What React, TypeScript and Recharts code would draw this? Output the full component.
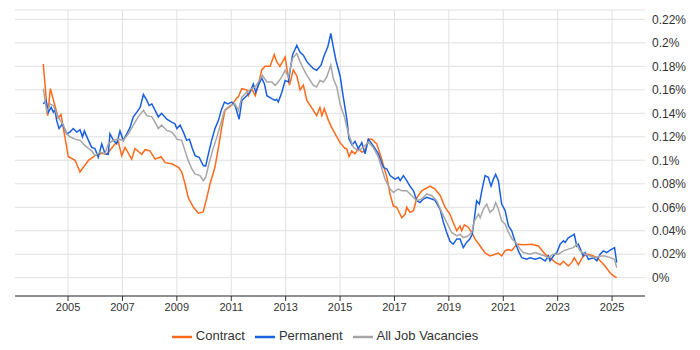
import React from 'react';
import { LineChart, Line, XAxis, YAxis, CartesianGrid, Legend } from 'recharts';

// year (decimal) and share of job ads (%)
const contractYears = [2004.09, 2004.25, 2004.35, 2004.5, 2004.64, 2004.74, 2005.01, 2005.26, 2005.44, 2005.75, 2005.99, 2006.24, 2006.42, 2006.73, 2006.85, 2006.97, 2007.1, 2007.34, 2007.46, 2007.71, 2007.83, 2008.01, 2008.2, 2008.42, 2008.57, 2008.81, 2009.06, 2009.18, 2009.3, 2009.42, 2009.61, 2009.79, 2009.97, 2010.1, 2010.22, 2010.4, 2010.53, 2010.65, 2010.77, 2011.02, 2011.2, 2011.26, 2011.39, 2011.57, 2011.63, 2011.75, 2011.88, 2012.0, 2012.12, 2012.24, 2012.43, 2012.58, 2012.67, 2012.79, 2012.98, 2013.14, 2013.28, 2013.41, 2013.53, 2013.65, 2013.78, 2014.02, 2014.14, 2014.26, 2014.33, 2014.42, 2014.57, 2014.69, 2014.88, 2015.0, 2015.18, 2015.24, 2015.33, 2015.43, 2015.55, 2015.67, 2015.8, 2015.92, 2016.04, 2016.17, 2016.35, 2016.53, 2016.72, 2016.84, 2016.96, 2017.08, 2017.27, 2017.39, 2017.45, 2017.57, 2017.7, 2017.82, 2018.0, 2018.31, 2018.49, 2018.68, 2018.86, 2019.04, 2019.16, 2019.29, 2019.41, 2019.47, 2019.57, 2019.71, 2019.84, 2019.96, 2020.15, 2020.33, 2020.51, 2020.7, 2020.82, 2020.94, 2021.07, 2021.19, 2021.31, 2021.5, 2021.75, 2022.05, 2022.29, 2022.54, 2022.72, 2022.91, 2023.09, 2023.21, 2023.39, 2023.52, 2023.61, 2023.76, 2023.94, 2024.13, 2024.31, 2024.44, 2024.62, 2024.74, 2024.93, 2025.05, 2025.17];
const contractValues = [0.182, 0.138, 0.161, 0.148, 0.136, 0.139, 0.103, 0.1, 0.09, 0.1, 0.104, 0.106, 0.105, 0.114, 0.116, 0.104, 0.111, 0.101, 0.11, 0.105, 0.109, 0.108, 0.101, 0.103, 0.098, 0.097, 0.094, 0.09, 0.08, 0.068, 0.06, 0.055, 0.056, 0.068, 0.08, 0.094, 0.111, 0.128, 0.1425, 0.147, 0.153, 0.154, 0.161, 0.16, 0.155, 0.161, 0.155, 0.165, 0.177, 0.18, 0.18, 0.19, 0.184, 0.18, 0.188, 0.164, 0.177, 0.172, 0.16, 0.164, 0.151, 0.1425, 0.138, 0.145, 0.138, 0.144, 0.134, 0.128, 0.12, 0.115, 0.11, 0.11, 0.103, 0.108, 0.1055, 0.11, 0.107, 0.108, 0.118, 0.118, 0.114, 0.101, 0.0855, 0.071, 0.061, 0.06, 0.051, 0.054, 0.06, 0.0556, 0.057, 0.068, 0.074, 0.078, 0.0755, 0.07, 0.06, 0.054, 0.047, 0.04, 0.044, 0.04, 0.045, 0.043, 0.0385, 0.033, 0.027, 0.021, 0.0185, 0.02, 0.021, 0.0185, 0.023, 0.024, 0.023, 0.0285, 0.028, 0.0285, 0.027, 0.02, 0.017, 0.013, 0.011, 0.014, 0.01, 0.013, 0.017, 0.011, 0.0185, 0.02, 0.0185, 0.017, 0.013, 0.01, 0.004, 0.0015, 0.0];

const permanentYears = [2004.09, 2004.19, 2004.28, 2004.38, 2004.46, 2004.52, 2004.58, 2004.67, 2004.79, 2004.95, 2005.07, 2005.19, 2005.32, 2005.44, 2005.53, 2005.6, 2005.75, 2005.87, 2005.99, 2006.11, 2006.24, 2006.36, 2006.48, 2006.54, 2006.67, 2006.79, 2006.91, 2007.03, 2007.16, 2007.28, 2007.4, 2007.53, 2007.65, 2007.77, 2007.9, 2007.98, 2008.08, 2008.2, 2008.32, 2008.44, 2008.63, 2008.81, 2008.93, 2009.0, 2009.12, 2009.24, 2009.36, 2009.46, 2009.57, 2009.67, 2009.82, 2009.97, 2010.06, 2010.16, 2010.28, 2010.4, 2010.53, 2010.63, 2010.75, 2010.87, 2011.02, 2011.14, 2011.29, 2011.39, 2011.57, 2011.69, 2011.81, 2011.9, 2012.0, 2012.12, 2012.22, 2012.31, 2012.49, 2012.61, 2012.67, 2012.73, 2012.86, 2012.98, 2013.1, 2013.25, 2013.41, 2013.53, 2013.65, 2013.78, 2013.9, 2014.02, 2014.14, 2014.3, 2014.42, 2014.55, 2014.66, 2014.75, 2014.85, 2015.0, 2015.11, 2015.25, 2015.33, 2015.44, 2015.55, 2015.67, 2015.8, 2015.92, 2016.04, 2016.17, 2016.29, 2016.41, 2016.59, 2016.72, 2016.84, 2017.02, 2017.14, 2017.21, 2017.33, 2017.45, 2017.57, 2017.7, 2017.82, 2017.94, 2018.06, 2018.19, 2018.37, 2018.49, 2018.68, 2018.8, 2018.92, 2019.04, 2019.16, 2019.29, 2019.41, 2019.53, 2019.65, 2019.77, 2019.86, 2019.94, 2020.02, 2020.12, 2020.21, 2020.33, 2020.45, 2020.55, 2020.64, 2020.72, 2020.82, 2020.94, 2021.07, 2021.19, 2021.31, 2021.43, 2021.55, 2021.68, 2021.86, 2021.99, 2022.17, 2022.35, 2022.54, 2022.66, 2022.72, 2022.84, 2022.97, 2023.09, 2023.21, 2023.27, 2023.39, 2023.52, 2023.61, 2023.7, 2023.76, 2023.94, 2024.01, 2024.13, 2024.31, 2024.44, 2024.56, 2024.68, 2024.8, 2024.93, 2025.09, 2025.17];
const permanentValues = [0.148, 0.151, 0.141, 0.145, 0.141, 0.143, 0.134, 0.127, 0.131, 0.1226, 0.124, 0.127, 0.124, 0.126, 0.12, 0.125, 0.117, 0.111, 0.11, 0.1026, 0.114, 0.1055, 0.105, 0.1226, 0.117, 0.114, 0.125, 0.117, 0.1226, 0.128, 0.137, 0.141, 0.145, 0.156, 0.151, 0.1467, 0.148, 0.1425, 0.137, 0.14, 0.135, 0.1325, 0.131, 0.127, 0.13, 0.124, 0.117, 0.118, 0.11, 0.104, 0.1026, 0.0955, 0.095, 0.1055, 0.117, 0.127, 0.134, 0.1425, 0.1496, 0.148, 0.1496, 0.1467, 0.135, 0.151, 0.155, 0.158, 0.165, 0.158, 0.164, 0.17, 0.165, 0.155, 0.1525, 0.151, 0.152, 0.1496, 0.158, 0.168, 0.1667, 0.1895, 0.198, 0.192, 0.1895, 0.184, 0.181, 0.178, 0.1767, 0.181, 0.1895, 0.1966, 0.208, 0.1966, 0.185, 0.172, 0.155, 0.135, 0.118, 0.113, 0.116, 0.11, 0.115, 0.1055, 0.118, 0.114, 0.11, 0.1055, 0.094, 0.0926, 0.087, 0.084, 0.0855, 0.0827, 0.087, 0.0827, 0.078, 0.074, 0.0655, 0.064, 0.067, 0.0684, 0.067, 0.066, 0.058, 0.047, 0.0385, 0.031, 0.0285, 0.033, 0.033, 0.0256, 0.03, 0.033, 0.037, 0.051, 0.0655, 0.0627, 0.074, 0.087, 0.0855, 0.078, 0.084, 0.088, 0.0827, 0.0627, 0.057, 0.044, 0.04, 0.031, 0.023, 0.017, 0.0157, 0.017, 0.0157, 0.017, 0.0143, 0.0185, 0.0143, 0.0185, 0.0214, 0.0285, 0.0314, 0.03, 0.034, 0.0356, 0.037, 0.027, 0.0285, 0.0185, 0.0214, 0.0157, 0.017, 0.0143, 0.02, 0.0228, 0.0214, 0.0234, 0.0256, 0.0128];

const allYears = [2004.09, 2004.22, 2004.34, 2004.46, 2004.58, 2004.71, 2004.83, 2004.95, 2005.07, 2005.26, 2005.44, 2005.56, 2005.75, 2005.87, 2005.99, 2006.18, 2006.36, 2006.48, 2006.67, 2006.85, 2007.03, 2007.22, 2007.4, 2007.58, 2007.77, 2007.9, 2008.08, 2008.2, 2008.32, 2008.44, 2008.63, 2008.81, 2008.93, 2009.0, 2009.18, 2009.3, 2009.42, 2009.55, 2009.67, 2009.85, 2009.97, 2010.06, 2010.18, 2010.31, 2010.47, 2010.63, 2010.75, 2010.96, 2011.14, 2011.26, 2011.39, 2011.57, 2011.75, 2011.88, 2012.0, 2012.14, 2012.31, 2012.49, 2012.61, 2012.73, 2012.86, 2012.98, 2013.1, 2013.25, 2013.41, 2013.53, 2013.65, 2013.78, 2013.9, 2014.02, 2014.14, 2014.26, 2014.39, 2014.51, 2014.66, 2014.75, 2014.88, 2015.0, 2015.16, 2015.31, 2015.49, 2015.67, 2015.85, 2016.04, 2016.22, 2016.41, 2016.65, 2016.84, 2016.96, 2017.14, 2017.27, 2017.45, 2017.64, 2017.82, 2018.0, 2018.19, 2018.37, 2018.55, 2018.74, 2018.92, 2019.1, 2019.29, 2019.41, 2019.53, 2019.71, 2019.84, 2019.94, 2020.09, 2020.15, 2020.27, 2020.39, 2020.51, 2020.64, 2020.72, 2020.82, 2020.94, 2021.07, 2021.19, 2021.33, 2021.46, 2021.62, 2021.74, 2021.99, 2022.17, 2022.35, 2022.54, 2022.66, 2022.84, 2023.03, 2023.21, 2023.39, 2023.58, 2023.7, 2023.82, 2024.01, 2024.19, 2024.38, 2024.56, 2024.74, 2024.93, 2025.09, 2025.17];
const allValues = [0.161, 0.141, 0.148, 0.1467, 0.14, 0.134, 0.13, 0.1226, 0.12, 0.118, 0.117, 0.114, 0.11, 0.108, 0.104, 0.107, 0.1055, 0.114, 0.117, 0.118, 0.117, 0.1226, 0.13, 0.137, 0.1425, 0.138, 0.137, 0.1325, 0.127, 0.13, 0.1254, 0.124, 0.121, 0.118, 0.117, 0.108, 0.0997, 0.0926, 0.0884, 0.087, 0.0827, 0.0855, 0.097, 0.108, 0.1197, 0.1325, 0.1425, 0.1467, 0.148, 0.1425, 0.1538, 0.158, 0.161, 0.1624, 0.1667, 0.1724, 0.1667, 0.1667, 0.1638, 0.1667, 0.171, 0.1767, 0.171, 0.1867, 0.191, 0.1838, 0.178, 0.1724, 0.168, 0.1638, 0.1624, 0.168, 0.1667, 0.171, 0.181, 0.1696, 0.1624, 0.148, 0.137, 0.1226, 0.111, 0.108, 0.111, 0.1154, 0.111, 0.1026, 0.084, 0.0755, 0.0727, 0.0755, 0.074, 0.074, 0.0698, 0.0655, 0.067, 0.0713, 0.0698, 0.0655, 0.0556, 0.047, 0.0385, 0.0356, 0.037, 0.0342, 0.0356, 0.0385, 0.0485, 0.0542, 0.051, 0.0585, 0.0627, 0.0556, 0.0585, 0.064, 0.0585, 0.0485, 0.0456, 0.0385, 0.0328, 0.03, 0.0243, 0.0214, 0.02, 0.0214, 0.02, 0.0185, 0.0171, 0.02, 0.02, 0.0228, 0.0243, 0.0256, 0.0285, 0.0228, 0.02, 0.0185, 0.0171, 0.0185, 0.0185, 0.0171, 0.0157, 0.0085];

const seriesNames = ['Contract', 'Permanent', 'All Job Vacancies'];
const yearTicks = [2005, 2007, 2009, 2011, 2013, 2015, 2017, 2019, 2021, 2023, 2025];
const pctTicks = [0, 0.02, 0.04, 0.06, 0.08, 0.1, 0.12, 0.14, 0.16, 0.18, 0.2, 0.22];
const yearDomain = [2003.05, 2026.21];

const toPoints = (years: number[], values: number[]) =>
  years.map((year, i) => ({ year, value: values[i] }));

const contract = toPoints(contractYears, contractValues);
const permanent = toPoints(permanentYears, permanentValues);
const allJobs = toPoints(allYears, allValues);

const fmtPct = (v: number) => `${Number(v.toFixed(2))}%`;

// vertical grid lines only at the year ticks, none on the plot edges
const yearGridLines = (props: any) => {
  const scale = props?.xAxis?.scale;
  if (typeof scale === 'function') return yearTicks.map((t) => scale(t));
  if (scale && typeof scale.map === 'function') return yearTicks.map((t) => scale.map(t));
  const { left, width } = props.offset;
  const [d0, d1] = yearDomain;
  return yearTicks.map((t) => left + ((t - d0) / (d1 - d0)) * width);
};

export default function App() {
  return (
    <div style={{ fontFamily: 'Arial, "Liberation Sans", sans-serif' }}>
      <style>{'body{margin:0}'}</style>
      <LineChart width={700} height={350} margin={{ top: 10, right: 0, bottom: 3, left: 15 }}>
        <CartesianGrid stroke="#e0e0e0" verticalCoordinatesGenerator={yearGridLines} />
        <XAxis
          dataKey="year"
          type="number"
          domain={yearDomain}
          ticks={yearTicks}
          allowDataOverflow
          stroke="#333"
          tick={{ fill: '#333', fontSize: 11 }}
          tickSize={5}
          height={31}
        />
        <YAxis
          orientation="right"
          type="number"
          domain={[-0.0156, 0.228]}
          ticks={pctTicks}
          allowDataOverflow
          tickFormatter={fmtPct}
          axisLine={false}
          tickLine={false}
          tick={{ fill: '#333', fontSize: 12, textAnchor: 'start' }}
          tickMargin={1}
          width={55}
        />
        <Legend
          verticalAlign="bottom"
          iconType="plainline"
          iconSize={20}
          itemSorter={(item: any) => seriesNames.indexOf(item.value)}
          formatter={(value: string) => <span style={{ color: '#333' }}>{value}</span>}
          wrapperStyle={{ fontSize: 13, left: 15, width: 630 }}
        />
        <Line data={contract} dataKey="value" name="Contract" stroke="#ff6a1a" strokeWidth={1.5} dot={false} isAnimationActive={false} />
        <Line data={permanent} dataKey="value" name="Permanent" stroke="#1a5fe0" strokeWidth={1.5} dot={false} isAnimationActive={false} />
        <Line data={allJobs} dataKey="value" name="All Job Vacancies" stroke="#a6a6a6" strokeWidth={1.5} dot={false} isAnimationActive={false} />
      </LineChart>
    </div>
  );
}
